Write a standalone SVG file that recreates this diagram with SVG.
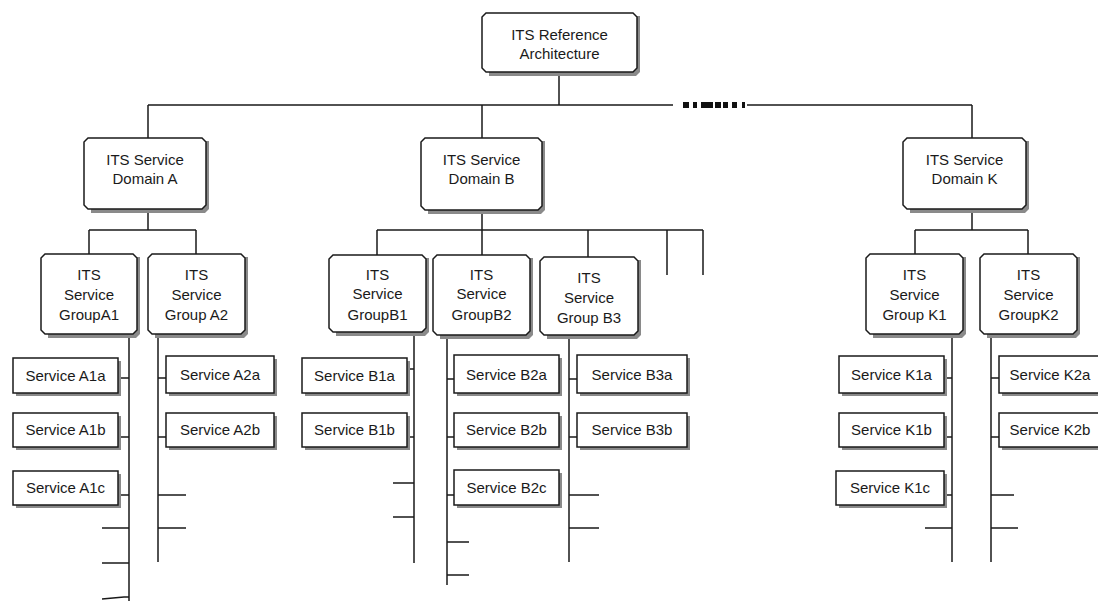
<svg xmlns="http://www.w3.org/2000/svg" width="1098" height="601" viewBox="0 0 1098 601">
<style>
.bg{fill:#ffffff}
.box{fill:#ffffff;stroke:#1a1a1a;stroke-width:1.5}
.sh{fill:#8a8a8a}
.ln{fill:none;stroke:#1a1a1a;stroke-width:1.5}
.dash{fill:#111111}
text{font-family:"Liberation Sans",Arial,sans-serif;font-size:15px;fill:#1a1a1a;text-anchor:middle}
</style>
<rect class="bg" x="0" y="0" width="1098" height="601"/>
<g id="connectors">
<path class="ln" d="M559,72V105M148,105H673M747,105H972M148,105V138M482,105V138M972,105V138"/>
<rect class="dash" x="683" y="102" width="6" height="6"/>
<rect class="dash" x="693" y="102" width="4" height="6"/>
<rect class="dash" x="701" y="102" width="12" height="6"/>
<rect class="dash" x="715" y="102" width="6" height="6"/>
<rect class="dash" x="723" y="102" width="5" height="6"/>
<rect class="dash" x="732" y="102" width="5" height="6"/>
<rect class="dash" x="742" y="102" width="3" height="6"/>
<path class="ln" d="M148,209V230M89,230H196M89,230V254M196,230V254"/>
<path class="ln" d="M482,210V230M377,230H703M377,230V255M482,230V255M588,230V257M667,230V275M703,230V275"/>
<path class="ln" d="M972,209V230M915,230H1028M915,230V254M1028,230V254"/>
<path class="ln" d="M129,334V601M118,378H129M118,437H129M118,495H129M102,528H129M102,563H129M102,599L124,597H129"/>
<path class="ln" d="M158,334V562M158,378H166M158,437H166M158,495H186M158,528H186"/>
<path class="ln" d="M414,332V563M407,369H414M407,437H414M393,483H414M393,517H414"/>
<path class="ln" d="M447,335V585M447,379H454M447,437H454M447,495H454M447,542H469M447,575H469"/>
<path class="ln" d="M569,335V562M569,379H577M569,437H577M569,495H599M569,528H599"/>
<path class="ln" d="M952,334V562M944,378H952M944,437H952M944,495H952M925,528H952"/>
<path class="ln" d="M991,334V562M991,378H999M991,437H999M991,495H1014M991,528H1018"/>
</g>
<g id="top">
<path class="sh" d="M489,16H640V72L636,76H489Z"/>
<path class="box" d="M486,13H633L637,17V68L633,72H486L482,68V17Z"/>
<text x="559.5" y="40">ITS Reference</text>
<text x="559.5" y="59">Architecture</text>
</g>
<g id="domainA">
<path class="sh" d="M91,141H209V209L205,213H91Z"/>
<path class="box" d="M88,138H202L206,142V205L202,209H88L84,205V142Z"/>
<text x="145" y="165">ITS Service</text>
<text x="145" y="184">Domain A</text>
</g>
<g id="domainB">
<path class="sh" d="M428,141H545V210L541,214H428Z"/>
<path class="box" d="M425,138H538L542,142V206L538,210H425L421,206V142Z"/>
<text x="481.5" y="165">ITS Service</text>
<text x="481.5" y="184">Domain B</text>
</g>
<g id="domainK">
<path class="sh" d="M910,141H1029V209L1025,213H910Z"/>
<path class="box" d="M907,138H1022L1026,142V205L1022,209H907L903,205V142Z"/>
<text x="964.5" y="165">ITS Service</text>
<text x="964.5" y="184">Domain K</text>
</g>
<g id="groupA1">
<path class="sh" d="M48,257H140V334L136,338H48Z"/>
<path class="box" d="M45,254H133L137,258V330L133,334H45L41,330V258Z"/>
<text x="89" y="280">ITS</text><text x="89" y="300">Service</text><text x="89" y="320">GroupA1</text>
</g>
<g id="groupA2">
<path class="sh" d="M155,257H248V334L244,338H155Z"/>
<path class="box" d="M152,254H241L245,258V330L241,334H152L148,330V258Z"/>
<text x="196.5" y="280">ITS</text><text x="196.5" y="300">Service</text><text x="196.5" y="320">Group A2</text>
</g>
<g id="groupB1">
<path class="sh" d="M336,258H429V332L425,336H336Z"/>
<path class="box" d="M333,255H422L426,259V328L422,332H333L329,328V259Z"/>
<text x="377.5" y="280">ITS</text><text x="377.5" y="299">Service</text><text x="377.5" y="320">GroupB1</text>
</g>
<g id="groupB2">
<path class="sh" d="M440,258H533V335L529,339H440Z"/>
<path class="box" d="M437,255H526L530,259V331L526,335H437L433,331V259Z"/>
<text x="481.5" y="280">ITS</text><text x="481.5" y="299">Service</text><text x="481.5" y="320">GroupB2</text>
</g>
<g id="groupB3">
<path class="sh" d="M547,260H641V335L637,339H547Z"/>
<path class="box" d="M544,257H634L638,261V331L634,335H544L540,331V261Z"/>
<text x="589" y="283">ITS</text><text x="589" y="303">Service</text><text x="589" y="323">Group B3</text>
</g>
<g id="groupK1">
<path class="sh" d="M873,257H966V334L962,338H873Z"/>
<path class="box" d="M870,254H959L963,258V330L959,334H870L866,330V258Z"/>
<text x="914.5" y="280">ITS</text><text x="914.5" y="300">Service</text><text x="914.5" y="320">Group K1</text>
</g>
<g id="groupK2">
<path class="sh" d="M987,257H1080V334L1076,338H987Z"/>
<path class="box" d="M984,254H1073L1077,258V330L1073,334H984L980,330V258Z"/>
<text x="1028.5" y="280">ITS</text><text x="1028.5" y="300">Service</text><text x="1028.5" y="320">GroupK2</text>
</g>
<g id="serviceA1a"><rect class="sh" x="16" y="361" width="105" height="35"/><rect class="box" x="13" y="358" width="105" height="35"/><text x="65.5" y="381">Service A1a</text></g>
<g id="serviceA1b"><rect class="sh" x="16" y="416" width="105" height="34"/><rect class="box" x="13" y="413" width="105" height="34"/><text x="65.5" y="435">Service A1b</text></g>
<g id="serviceA1c"><rect class="sh" x="16" y="474" width="105" height="34"/><rect class="box" x="13" y="471" width="105" height="34"/><text x="65.5" y="493">Service A1c</text></g>
<g id="serviceA2a"><rect class="sh" x="169" y="359" width="108" height="37"/><rect class="box" x="166" y="356" width="108" height="37"/><text x="220" y="380">Service A2a</text></g>
<g id="serviceA2b"><rect class="sh" x="169" y="416" width="108" height="34"/><rect class="box" x="166" y="413" width="108" height="34"/><text x="220" y="435">Service A2b</text></g>
<g id="serviceB1a"><rect class="sh" x="305" y="361" width="105" height="35"/><rect class="box" x="302" y="358" width="105" height="35"/><text x="354.5" y="381">Service B1a</text></g>
<g id="serviceB1b"><rect class="sh" x="305" y="416" width="105" height="34"/><rect class="box" x="302" y="413" width="105" height="34"/><text x="354.5" y="435">Service B1b</text></g>
<g id="serviceB2a"><rect class="sh" x="457" y="358" width="105" height="38"/><rect class="box" x="454" y="355" width="105" height="38"/><text x="506.5" y="380">Service B2a</text></g>
<g id="serviceB2b"><rect class="sh" x="457" y="416" width="105" height="34"/><rect class="box" x="454" y="413" width="105" height="34"/><text x="506.5" y="435">Service B2b</text></g>
<g id="serviceB2c"><rect class="sh" x="457" y="473" width="105" height="35"/><rect class="box" x="454" y="470" width="105" height="35"/><text x="506.5" y="493">Service B2c</text></g>
<g id="serviceB3a"><rect class="sh" x="580" y="358" width="110" height="38"/><rect class="box" x="577" y="355" width="110" height="38"/><text x="632" y="380">Service B3a</text></g>
<g id="serviceB3b"><rect class="sh" x="580" y="416" width="110" height="34"/><rect class="box" x="577" y="413" width="110" height="34"/><text x="632" y="435">Service B3b</text></g>
<g id="serviceK1a"><rect class="sh" x="842" y="359" width="105" height="37"/><rect class="box" x="839" y="356" width="105" height="37"/><text x="891.5" y="380">Service K1a</text></g>
<g id="serviceK1b"><rect class="sh" x="842" y="416" width="105" height="34"/><rect class="box" x="839" y="413" width="105" height="34"/><text x="891.5" y="435">Service K1b</text></g>
<g id="serviceK1c"><rect class="sh" x="839" y="474" width="108" height="34"/><rect class="box" x="836" y="471" width="108" height="34"/><text x="890" y="493">Service K1c</text></g>
<g id="serviceK2a"><rect class="sh" x="1002" y="359" width="105" height="37"/><rect class="box" x="999" y="356" width="105" height="37"/><text x="1050" y="380">Service K2a</text></g>
<g id="serviceK2b"><rect class="sh" x="1002" y="416" width="105" height="34"/><rect class="box" x="999" y="413" width="105" height="34"/><text x="1050" y="435">Service K2b</text></g>
</svg>
